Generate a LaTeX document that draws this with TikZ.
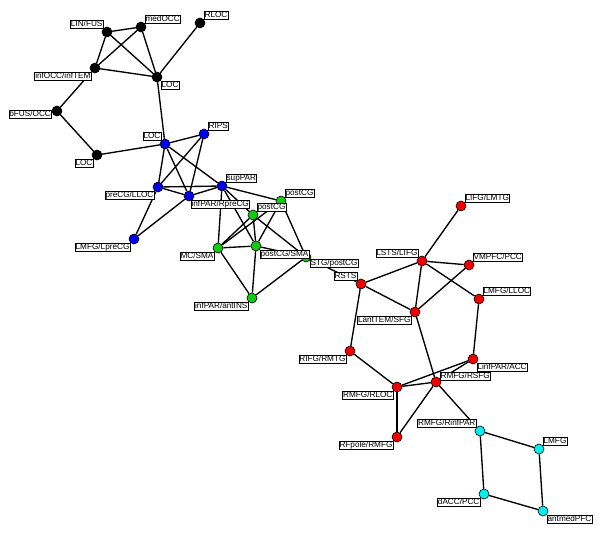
\documentclass[tikz,border=0pt]{standalone}
\usepackage{fontspec}
\setmainfont{Liberation Sans}
\usetikzlibrary{backgrounds}
\definecolor{nodeblue}{RGB}{0,0,235}
\definecolor{nodegreen}{RGB}{20,200,20}
\definecolor{nodered}{RGB}{240,0,0}
\definecolor{nodecyan}{RGB}{0,240,240}
\begin{document}
\begin{tikzpicture}[x=1pt,y=-1pt,
    region/.style={circle,draw=black,line width=0.6pt,minimum size=10pt,inner sep=0pt},
    occ/.style={region,fill=black},
    par/.style={region,fill=nodeblue},
    sens/.style={region,fill=nodegreen},
    front/.style={region,fill=nodered},
    dmn/.style={region,fill=nodecyan},
    every label/.style={draw=black,fill=white,line width=0.5pt,inner sep=0.6pt,
      font=\fontsize{8.2}{8}\selectfont,text height=5.6pt,text depth=1.3pt},
    link/.style={line width=1.35pt}]
    \useasboundingbox (0,0) rectangle (600,533);

    \node[occ] (lin) at (107,32) [label=above left:LIN/FUS] {};
    \node[occ] (med) at (141,27) [label=above right:medOCC] {};
    \node[occ] (rloc) at (200,23) [label=above right:RLOC] {};
    \node[occ] (infocc) at (95,68) [label=below left:infOCC/infTEM] {};
    \node[occ] (loct) at (157,77) [label=below right:LOC] {};
    \node[occ] (bfus) at (57,111) [label={[yshift=-3pt]left:bFUS/OCC}] {};
    \node[occ] (locb) at (97,155) [label=below left:LOC] {};

    \node[par] (locp) at (165,144) [label=above left:LOC] {};
    \node[par] (rips) at (204,134) [label=above right:RIPS] {};
    \node[par] (precg) at (158,187) [label=below left:preCG/LLOC] {};
    \node[par] (infpar) at (189,196) [label={[xshift=-2pt]below right:infPAR/RpreCG}] {};
    \node[par] (suppar) at (222,186) [label=above right:supPAR] {};
    \node[par] (lmfgl) at (134,239) [label=below left:LMFG/LpreCG] {};

    \node[sens] (pcgr) at (281,201) [label=above right:postCG] {};
    \node[sens] (pcgl) at (253,215) [label=above right:postCG] {};
    \node[sens] (stg) at (306,257) [label={[yshift=2pt]below right:STG/postCG}] {};
    \node[sens] (mcsma) at (218,248) [label=below left:MC/SMA] {};
    \node[sens] (pcgsma) at (256,246) [label=below right:postCG/SMA] {};
    \node[sens] (antins) at (252,298) [label=below left:infPAR/antINS] {};

    \node[front] (lifg) at (461,206) [label=above right:LIFG/LMTG] {};
    \node[front] (lsts) at (422,261) [label=above left:LSTS/LIFG] {};
    \node[front] (vmpfc) at (469,265) [label=above right:VMPFC/PCC] {};
    \node[front] (rsts) at (361,284) [label=above left:RSTS] {};
    \node[front] (lmfgll) at (479,299) [label=above right:LMFG/LLOC] {};
    \node[front] (lant) at (415,312) [label=below left:LantTEM/SFG] {};
    \node[front] (rifg) at (350,351) [label=below left:RIFG/RMTG] {};
    \node[front] (linf) at (473,359) [label=below right:LinfPAR/ACC] {};
    \node[front] (rsfg) at (436,382) [label={[yshift=-2pt]above right:RMFG/RSFG}] {};
    \node[front] (rlocf) at (397,387) [label=below left:RMFG/RLOC] {};
    \node[front] (rfpole) at (397,437) [label=below left:RFpole/RMFG] {};

    \node[dmn] (rinf) at (480,431) [label=above left:RMFG/RinfPAR] {};
    \node[dmn] (lmfg) at (539,449) [label=above right:LMFG] {};
    \node[dmn] (dacc) at (484,494) [label=below left:dACC/PCC] {};
    \node[dmn] (antmed) at (543,511) [label=below right:antmedPFC] {};

    \begin{scope}[on background layer]
    \fill[white] (0,0) rectangle (600,533);
    \foreach \a/\b in {lin/med,lin/infocc,lin/loct,med/infocc,med/loct,infocc/loct,
        rloc/loct,infocc/bfus,bfus/locb,locb/locp,loct/locp,
        locp/rips,locp/precg,locp/infpar,locp/suppar,rips/precg,rips/infpar,
        precg/infpar,precg/suppar,infpar/suppar,precg/lmfgl,infpar/lmfgl,
        suppar/pcgr,suppar/pcgl,suppar/pcgsma,suppar/mcsma,
        pcgl/mcsma,pcgl/pcgsma,pcgl/stg,pcgr/mcsma,pcgr/pcgsma,pcgr/stg,
        mcsma/pcgsma,mcsma/antins,pcgsma/antins,antins/stg,pcgsma/stg,
        stg/rsts,rsts/lsts,rsts/lant,rsts/rifg,lsts/lifg,lsts/vmpfc,lsts/lmfgll,
        lsts/lant,vmpfc/lant,lant/rsfg,lmfgll/linf,rifg/rlocf,rlocf/linf,
        rlocf/rsfg,rsfg/linf,rlocf/rfpole,rsfg/rfpole,rsfg/rinf,
        rinf/lmfg,rinf/dacc,lmfg/antmed,dacc/antmed}
      \draw[link] (\a) -- (\b);
    \end{scope}
\end{tikzpicture}
\end{document}
